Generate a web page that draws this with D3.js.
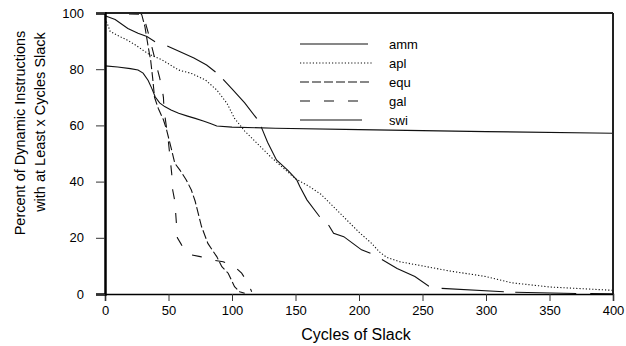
<!DOCTYPE html>
<html lang="en">
<meta charset="UTF-8">
<title>Slack chart</title>
<style>
body { margin: 0; background: #fff; }
svg text { font-family: Arial, "Liberation Sans", sans-serif; fill: #000; }
</style>
<script src="https://d3js.org/d3.v7.min.js"></script>
<body>
<div id="chart"></div>
<script>
// data: [cycles of slack, percent]
var amm = [[0,81.2],[10,80.8],[20,80.2],[26,79.7],[30,78.6],[34,76],[37,73],[39.5,70.2],[43,68],[47,66.7],[52,65.5],[58,64.3],[65,63.3],[71,62.5],[78,61.5],[83,60.7],[88,59.8],[100,59.4],[134,59],[200,58.5],[300,57.8],[400,57.2]];
var apl = [[0,98],[2,96],[4,93.5],[10,92],[17,90.5],[24,88.6],[34,85.5],[45,83.3],[58,79.7],[68,78.5],[79,76.2],[88,72.6],[96,67.9],[102,62.5],[110,58],[120,53.5],[130,49],[140,45],[150,41],[160,38.5],[170,35.5],[180,31],[190,26.5],[200,22],[210,18],[216,15],[222,13],[232,11.5],[250,10],[270,8.3],[300,6.2],[320,4],[350,2.5],[400,1.3]];
var equ = [[0,100],[28,100],[29,99.3],[31.5,95],[34,88],[36,83],[37.5,77],[39,70],[42,66],[46,62],[48.5,58.4],[52.5,51.2],[55,46.5],[59,44.1],[64,40.6],[68,37],[71,33],[76,24],[81,18],[88,13.3],[92,9.7],[97,7.4],[102,2.6],[106,0.8],[110,0.3]];
var gal = [[0,100],[30,99.5],[34,93],[38,86],[41,80.5],[43,77],[45,73],[46,70],[46.5,65.5],[49.8,54.8],[52.5,43],[53.3,37],[55,33],[56.4,24],[57,20],[60.4,17.4],[67,14],[75,13.3],[84,12.1],[93,11.5],[102,9.7],[107.6,7.4],[112.8,3.8],[115.5,0.8]];
var swi = [[0,99],[8,97.7],[18,94.5],[26,92.8],[33,91.6],[39.4,89.8],[49,88.3],[60,86],[70,84],[80,81.5],[87,79],[93,76.4],[100,73],[110,68],[119.4,62.5],[123,59.5],[128,54],[135,47.7],[144,44],[151,40.6],[153.5,38.2],[159,33.5],[169,27.5],[176,24.6],[180,21.6],[188,20.4],[197,17.4],[202,15.7],[209,14.5],[218,12.3],[230,9.1],[244,6.2],[255,2.8],[265,2],[314,0.8],[323,0.6],[371,0.2],[382,0.2],[400,0.1]];
// where the swi curve breaks in the picture (x from, x to)
var swiBreaks = [[39.4,49],[87,93],[119.4,123],[169,176],[209,218],[255,265],[314,323],[371,382]];

var seriesNames = ["amm", "apl", "equ", "gal", "swi"];
var xTicks = [0, 50, 100, 150, 200, 250, 300, 350, 400];
var yTicks = [0, 20, 40, 60, 80, 100];

var W = 626, H = 346;
var margin = {left: 105, right: 13, top: 13, bottom: 52};

var svg = d3.select("#chart").append("svg")
    .attr("width", W).attr("height", H);

var x = d3.scaleLinear().domain([0, 400]).range([margin.left, W - margin.right]);
var y = d3.scaleLinear().domain([0, 100]).range([H - margin.bottom, margin.top]);

// dash pattern for swi: follow the breaks seen in the picture
function swiDash() {
  var len = 0, marks = [], pts = swi.map(function(d) { return [x(d[0]), y(d[1])]; });
  var cum = [0];
  for (var i = 1; i < pts.length; i++) {
    len += Math.hypot(pts[i][0] - pts[i-1][0], pts[i][1] - pts[i-1][1]);
    cum.push(len);
  }
  function lenAt(v) {
    for (var i = 0; i < swi.length; i++) if (swi[i][0] >= v) return cum[i];
    return len;
  }
  var last = 0, out = [];
  swiBreaks.forEach(function(b) {
    var a = lenAt(b[0]), c = lenAt(b[1]);
    out.push(a - last, c - a);
    last = c;
  });
  out.push(len - last + 10, 0);
  return out.map(function(v) { return v.toFixed(1); }).join(",");
}

var dashes = {amm: null, apl: "1.2,2", equ: "9,3", gal: "10,14", swi: swiDash()};
var data = {amm: amm, apl: apl, equ: equ, gal: gal, swi: swi};

var line = d3.line().x(function(d) { return x(d[0]); }).y(function(d) { return y(d[1]); });

seriesNames.forEach(function(n) {
  svg.append("path")
    .datum(data[n])
    .attr("d", line)
    .attr("fill", "none")
    .attr("stroke", "#111")
    .attr("stroke-width", 1.1)
    .attr("stroke-dasharray", dashes[n]);
});

// frame top / right
svg.append("line").attr("x1", x(0)).attr("x2", x(400)).attr("y1", y(100)).attr("y2", y(100))
  .attr("stroke", "#222").attr("stroke-width", 2);
svg.append("line").attr("x1", x(400)).attr("x2", x(400)).attr("y1", y(100)).attr("y2", y(0))
  .attr("stroke", "#222").attr("stroke-width", 2);

// axes
var xAxis = svg.append("g").attr("transform", "translate(0," + y(0) + ")")
  .call(d3.axisBottom(x).tickValues(xTicks).tickSize(7).tickPadding(5));
var yAxis = svg.append("g").attr("transform", "translate(" + x(0) + ",0)")
  .call(d3.axisLeft(y).tickValues(yTicks).tickSize(9).tickPadding(12));

xAxis.select(".domain").attr("stroke-width", 1.5);
yAxis.select(".domain").attr("stroke-width", 2.5);
svg.selectAll(".tick line").attr("stroke", "#333");
svg.selectAll(".tick text").style("font-size", "13px").attr("font-family", null);

svg.append("text").attr("x", 356).attr("y", 340).attr("text-anchor", "middle")
  .style("font-size", "16px").text("Cycles of Slack");

svg.append("text").attr("transform", "translate(25,133) rotate(-90)").attr("text-anchor", "middle")
  .style("font-size", "14.5px").text("Percent of Dynamic Instructions");
svg.append("text").attr("transform", "translate(45,122) rotate(-90)").attr("text-anchor", "middle")
  .style("font-size", "14.5px").text("with at Least x Cycles Slack");

// legend
var legendY = [44, 63, 82, 101, 120];
var legendLen = {amm: 68, apl: 72, equ: 72, gal: 62, swi: 62};
seriesNames.forEach(function(n, i) {
  svg.append("line").attr("x1", 300).attr("x2", 300 + legendLen[n])
    .attr("y1", legendY[i]).attr("y2", legendY[i])
    .attr("stroke", "#111").attr("stroke-width", 1.1)
    .attr("stroke-dasharray", n == "swi" ? null : dashes[n]);
  svg.append("text").attr("x", 389).attr("y", legendY[i] + 5)
    .style("font-size", "13px").text(n);
});
</script>
</body>
</html>
